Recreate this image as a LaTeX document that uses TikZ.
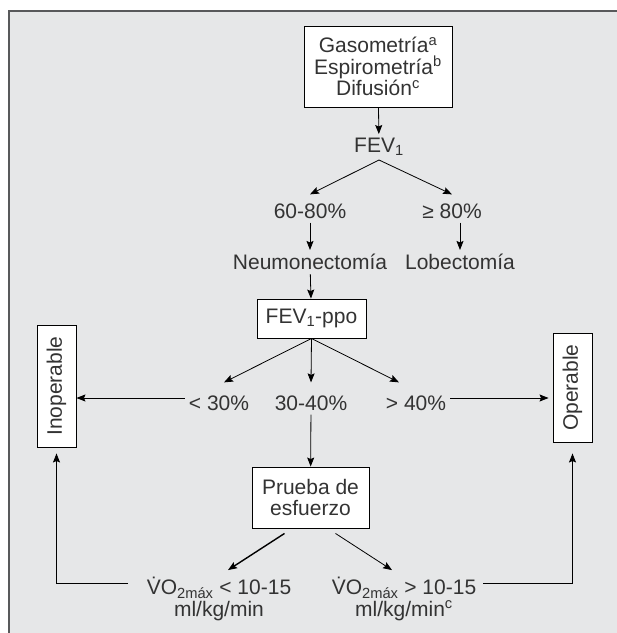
\documentclass[tikz,border=0pt]{standalone}
\usepackage{fontspec}
\usepackage{graphicx}
\setmainfont{Liberation Sans}
\usetikzlibrary{arrows.meta}
\definecolor{fondo}{HTML}{E6E7E8}
\definecolor{marco}{HTML}{58595B}
\definecolor{tinta}{HTML}{333333}
\tikzstyle{caja} = [draw=black, fill=white, line width=0.9pt, align=center, inner sep=0pt]
\tikzstyle{texto} = [align=center, inner sep=4pt]
\tikzstyle{flecha} = [-{Stealth[length=9pt,width=7pt,inset=1.5pt]}, line width=0.8pt, draw=black]

\begin{document}
\begin{tikzpicture}[x=1pt,y=-1pt,font=\fontsize{21}{21.5}\selectfont,text=tinta]
    \useasboundingbox (0,0) rectangle (617,633);
    \fill[fondo] (8,10) rectangle (617,633);
    \draw[marco, line width=2pt] (8.5,633) -- (8.5,10.5) -- (617,10.5);

    % pruebas iniciales
    \node[caja, minimum width=148pt, minimum height=81pt] (pruebas) at (378,66.5)
        {Gasometría\textsuperscript{a}\\Espirometría\textsuperscript{b}\\Difusión\textsuperscript{c}};
    \node[texto] (fev) at (379,147) {FEV\textsubscript{1}};
    \node[texto] (sesenta) at (310,211) {60-80\%};
    \node[texto] (ochenta) at (452,211) {≥ 80\%};
    \node[texto] (neumo) at (310,262) {Neumonectomía};
    \node[texto] (lobec) at (460,262) {Lobectomía};

    % FEV1 postoperatorio
    \node[caja, minimum width=109pt, minimum height=39pt] (ppo) at (311.5,318.5) {FEV\textsubscript{1}-ppo};
    \node[texto] (menos) at (219,403) {< 30\%};
    \node[texto] (medio) at (311,403) {30-40\%};
    \node[texto] (mas) at (416,403) {> 40\%};
    \node[caja, minimum width=39pt, minimum height=122pt] (inop) at (56.5,386) {\rotatebox{90}{Inoperable}};
    \node[caja, minimum width=39pt, minimum height=109pt] (oper) at (572.5,387.5) {\rotatebox{90}{Operable}};

    % prueba de esfuerzo
    \node[caja, minimum width=117pt, minimum height=61pt] (prueba) at (310.5,497.5) {Prueba de\\esfuerzo};
    \node[texto] (vmenor) at (219,599) {\.{V}O\textsubscript{2máx} < 10-15\\ml/kg/min};
    \node[texto] (vmayor) at (404,599) {\.{V}O\textsubscript{2máx} > 10-15\\ml/kg/min\textsuperscript{c}};
    \coordinate (vi) at (128,583);
    \coordinate (vd) at (483,583);

    \draw[flecha] (pruebas) -- (fev);
    \draw[flecha] (fev.south) -- ([yshift=5pt]sesenta.north);
    \draw[flecha] (fev.south) -- ([yshift=5pt]ochenta.north);
    \draw[flecha] (sesenta) -- (neumo);
    \draw[flecha] (lobec.north |- ochenta.south) -- (lobec.north);
    \draw[flecha] (neumo) -- (ppo);
    \draw[flecha] (ppo.south) -- ([xshift=5pt,yshift=9pt]menos.north);
    \draw[flecha] (ppo.south) -- ([yshift=9pt]medio.north);
    \draw[flecha] (ppo.south) -- ([xshift=-17pt,yshift=9pt]mas.north);
    \draw[flecha] ([yshift=5pt]menos.west) -- ([yshift=5pt]menos.west -| inop.east);
    \draw[flecha, shorten >=4pt] ([yshift=5pt]mas.east) -- ([yshift=5pt]mas.east -| oper.west);
    \draw[flecha] (medio) -- (prueba);
    \draw[flecha, line width=1.4pt] ([xshift=-26pt,yshift=-5pt]prueba.south) -- ([xshift=9pt,yshift=3pt]vmenor.north);
    \draw[flecha] ([xshift=25pt,yshift=-5pt]prueba.south) -- ([xshift=-12pt,yshift=3pt]vmayor.north);
    \draw[flecha, shorten >=6pt] (vi) -| (inop.south);
    \draw[flecha, shorten >=11pt] (vd) -| (oper.south);
\end{tikzpicture}
\end{document}
